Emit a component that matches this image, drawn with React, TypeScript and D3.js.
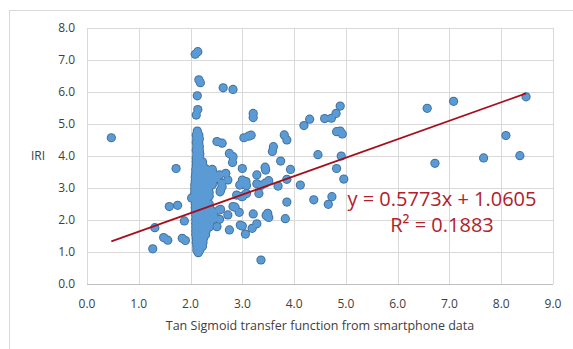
import React from "react";
import * as d3 from "d3";

// Scattered observations: [tan sigmoid output, IRI]
const scatterPoints: [number, number][] = [
  [0.47, 4.57], [1.27, 1.1], [1.31, 1.76], [1.48, 1.45], [1.56, 1.37],
  [1.59, 2.42], [1.75, 2.46], [1.72, 3.61], [1.84, 1.43], [1.9, 1.36],
  [1.88, 1.97], [2.02, 2.69], [2.09, 7.18], [2.14, 7.26], [2.16, 6.38],
  [2.19, 6.29], [2.13, 5.88], [2.14, 5.45], [2.11, 5.28], [2.63, 6.13],
  [2.82, 6.08], [2.51, 4.45], [2.61, 4.4], [2.75, 4.08], [2.82, 3.98],
  [2.81, 3.8], [2.42, 3.58], [2.56, 3.41], [2.68, 3.46], [2.72, 3.25],
  [2.58, 2.94], [2.61, 3.04], [2.44, 3.46], [2.5, 3.3], [2.6, 3.15],
  [3.03, 4.57], [3.12, 4.62], [3.17, 4.65], [3.21, 5.33], [3.21, 5.2],
  [3.0, 3.61], [3.0, 3.25], [3.07, 3.2], [3.08, 3.08], [3.08, 2.83],
  [3.01, 2.75], [3.28, 3.13], [3.36, 3.08], [3.28, 3.41], [3.32, 2.83],
  [3.44, 3.65], [3.45, 3.56], [3.51, 3.23], [3.6, 4.29], [3.58, 4.14],
  [3.69, 3.06], [3.74, 3.84], [3.81, 4.66], [3.86, 4.5], [3.93, 3.58],
  [3.86, 3.27], [3.86, 2.56], [3.83, 2.04], [4.12, 3.09], [4.19, 4.95],
  [4.3, 5.15], [4.46, 4.04], [4.38, 2.63], [4.59, 5.17], [4.72, 5.18],
  [4.81, 5.33], [4.89, 5.56], [4.82, 4.76], [4.89, 4.78], [4.93, 4.69],
  [4.91, 4.0], [4.82, 3.61], [4.96, 3.28], [4.73, 2.73], [4.66, 2.49],
  [6.57, 5.49], [7.08, 5.71], [6.72, 3.77], [7.66, 3.94], [8.09, 4.64],
  [8.36, 4.01], [8.48, 5.85], [3.36, 0.75], [2.86, 2.4], [2.94, 2.24],
  [2.72, 2.16], [2.58, 2.33], [2.75, 1.69], [2.96, 1.84], [3.0, 1.81],
  [3.06, 1.56], [3.21, 2.19], [3.19, 1.74], [3.28, 1.88], [3.49, 2.21],
  [3.51, 2.08], [3.46, 2.14], [2.82, 2.42], [2.99, 2.73], [2.89, 2.78],
  [2.57, 2.88], [2.55, 2.31], [2.56, 2.02], [2.51, 1.79], [2.95, 3.09],
  [3.44, 3.15],
];

// Dense band of observations near x = 2.1–2.45, listed row by row (IRI, outputs)
const clusterRows: { y: number; xs: number[] }[] = [
  { y: 4.78, xs: [2.13] },
  { y: 4.66, xs: [2.11, 2.16] },
  { y: 4.54, xs: [2.12, 2.17] },
  { y: 4.42, xs: [2.11, 2.16] },
  { y: 4.3, xs: [2.12, 2.17] },
  { y: 4.18, xs: [2.11, 2.17] },
  { y: 4.06, xs: [2.12, 2.18] },
  { y: 3.94, xs: [2.11, 2.17] },
  { y: 3.82, xs: [2.11, 2.18, 2.23] },
  { y: 3.7, xs: [2.11, 2.17, 2.24] },
  { y: 3.58, xs: [2.1, 2.17, 2.24, 2.31] },
  { y: 3.46, xs: [2.1, 2.17, 2.24, 2.31, 2.37] },
  { y: 3.34, xs: [2.09, 2.16, 2.23, 2.3, 2.37] },
  { y: 3.22, xs: [2.09, 2.16, 2.23, 2.3, 2.36, 2.43] },
  { y: 3.1, xs: [2.08, 2.15, 2.22, 2.29, 2.36, 2.42] },
  { y: 2.98, xs: [2.08, 2.15, 2.22, 2.29, 2.35] },
  { y: 2.86, xs: [2.08, 2.15, 2.22, 2.29, 2.36] },
  { y: 2.74, xs: [2.09, 2.16, 2.23, 2.3, 2.36] },
  { y: 2.62, xs: [2.09, 2.16, 2.23, 2.3] },
  { y: 2.5, xs: [2.09, 2.16, 2.23, 2.3, 2.36] },
  { y: 2.38, xs: [2.09, 2.16, 2.23, 2.3, 2.37] },
  { y: 2.26, xs: [2.09, 2.16, 2.23, 2.3, 2.37, 2.43] },
  { y: 2.14, xs: [2.1, 2.17, 2.24, 2.31, 2.38, 2.45] },
  { y: 2.02, xs: [2.1, 2.17, 2.24, 2.31, 2.38, 2.44] },
  { y: 1.9, xs: [2.1, 2.17, 2.24, 2.31, 2.37] },
  { y: 1.78, xs: [2.1, 2.17, 2.24, 2.31, 2.36] },
  { y: 1.66, xs: [2.1, 2.17, 2.24, 2.3] },
  { y: 1.54, xs: [2.1, 2.17, 2.24, 2.29] },
  { y: 1.42, xs: [2.11, 2.18, 2.25] },
  { y: 1.3, xs: [2.11, 2.18, 2.24] },
  { y: 1.18, xs: [2.12, 2.19, 2.23] },
  { y: 1.06, xs: [2.12, 2.18] },
  { y: 0.98, xs: [2.15] },
];

// Linear trendline
const slope = 0.5773;
const intercept = 1.0605;
const rSquared = 0.1883;

const xTicks = [0, 1, 2, 3, 4, 5, 6, 7, 8, 9];
const yTicks = [0, 1, 2, 3, 4, 5, 6, 7, 8];

const W = 573;
const H = 349;
const plot = { left: 87, right: 553, top: 28, bottom: 284 };
const font = "'Open Sans', 'Liberation Sans', sans-serif";
const textColor = "#404040";

export default function App() {
  const x = d3.scaleLinear().domain([0, 9]).range([plot.left, plot.right]);
  const y = d3.scaleLinear().domain([0, 8]).range([plot.bottom, plot.top]);

  const points: [number, number][] = [
    ...clusterRows.flatMap((r) => r.xs.map((xv) => [xv, r.y] as [number, number])),
    ...scatterPoints,
  ];

  const xExtent = d3.extent(points, (d) => d[0]) as [number, number];
  const trend = d3
    .line<number>()
    .x((d) => x(d))
    .y((d) => y(slope * d + intercept))(xExtent);

  const fmt = d3.format(".1f");

  return (
    <svg
      width={W}
      height={H}
      style={{ position: "absolute", left: 0, top: 0, background: "#fff" }}
    >
      {/* chart frame */}
      <line x1={9.5} x2={9.5} y1={10} y2={H} stroke="#d9d9d9" />
      <line x1={9.5} x2={W} y1={10.5} y2={10.5} stroke="#d9d9d9" />

      {/* gridlines */}
      {yTicks.map((t) => (
        <line
          key={"gy" + t}
          x1={plot.left}
          x2={plot.right}
          y1={Math.round(y(t)) + 0.5}
          y2={Math.round(y(t)) + 0.5}
          stroke={t === 0 ? "#bfbfbf" : "#d9d9d9"}
          strokeWidth={1}
        />
      ))}
      {xTicks.map((t) => (
        <line
          key={"gx" + t}
          x1={Math.round(x(t)) + 0.5}
          x2={Math.round(x(t)) + 0.5}
          y1={plot.top}
          y2={plot.bottom}
          stroke="#d9d9d9"
          strokeWidth={1}
        />
      ))}

      {/* tick labels */}
      {yTicks.map((t) => (
        <text
          key={"ty" + t}
          x={plot.left - 12}
          y={y(t)}
          dy="0.35em"
          textAnchor="end"
          fontFamily={font}
          fontSize={12}
          fill={textColor}
        >
          {fmt(t)}
        </text>
      ))}
      {xTicks.map((t) => (
        <text
          key={"tx" + t}
          x={x(t)}
          y={plot.bottom + 20}
          dy="0.35em"
          textAnchor="middle"
          fontFamily={font}
          fontSize={12}
          fill={textColor}
        >
          {fmt(t)}
        </text>
      ))}

      {/* axis titles */}
      <text
        x={(plot.left + plot.right) / 2}
        y={326}
        dy="0.35em"
        textAnchor="middle"
        fontFamily={font}
        fontSize={12.5}
        fill={textColor}
      >
        Tan Sigmoid transfer function from smartphone data
      </text>
      <text
        x={38}
        y={156}
        dy="0.35em"
        textAnchor="middle"
        fontFamily={font}
        fontSize={12}
        fill={textColor}
      >
        IRI
      </text>

      {/* observations: outline layer, then fill layer so overlapping markers merge */}
      <g fill="#41719c">
        {points.map((d, i) => (
          <circle key={"o" + i} cx={x(d[0])} cy={y(d[1])} r={4.6} />
        ))}
      </g>
      <g fill="#5b9bd5">
        {points.map((d, i) => (
          <circle key={"f" + i} cx={x(d[0])} cy={y(d[1])} r={3.6} />
        ))}
      </g>

      {/* trendline */}
      <path d={trend ?? ""} fill="none" stroke="#a50f1c" strokeWidth={1.7} />

      {/* trendline equation */}
      <text
        x={442}
        y={199}
        dy="0.35em"
        textAnchor="middle"
        fontFamily={font}
        fontSize={20}
        fill="#b3202a"
      >
        {`y = ${slope.toFixed(4)}x + ${intercept.toFixed(4)}`}
      </text>
      <text
        x={442}
        y={225}
        dy="0.35em"
        textAnchor="middle"
        fontFamily={font}
        fontSize={20}
        fill="#b3202a"
      >
        {`R² = ${rSquared.toFixed(4)}`}
      </text>
    </svg>
  );
}
